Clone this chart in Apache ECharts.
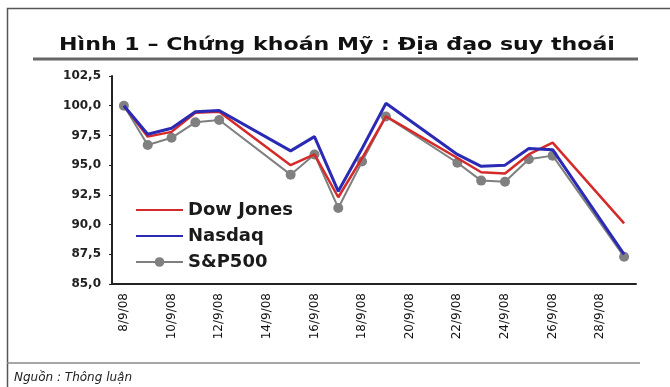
<!DOCTYPE html>
<html>
<head>
<meta charset="utf-8">
<script src="https://cdn.jsdelivr.net/npm/echarts@6/dist/echarts.min.js"></script>
<style>
html,body{margin:0;padding:0;background:#fff;}
#c{width:670px;height:387px;}
</style>
</head>
<body>
<div id="c"></div>
<script>
const categories = ["8/9/08","9/9/08","10/9/08","11/9/08","12/9/08","13/9/08","14/9/08","15/9/08","16/9/08","17/9/08","18/9/08","19/9/08","20/9/08","21/9/08","22/9/08","23/9/08","24/9/08","25/9/08","26/9/08","27/9/08","28/9/08","29/9/08"];
const dowJones = [100.0, 97.4, 97.8, 99.4, 99.5, null, null, 95.0, 95.9, 92.3, 95.6, 99.1, null, null, 95.6, 94.4, 94.3, 95.9, 96.9, null, null, 90.1];
const nasdaq   = [100.0, 97.6, 98.1, 99.5, 99.6, null, null, 96.2, 97.4, 92.8, 96.4, 100.2, null, null, 95.9, 94.9, 95.0, 96.4, 96.3, null, null, 87.5];
const sp500    = [100.0, 96.7, 97.3, 98.6, 98.8, null, null, 94.2, 95.9, 91.4, 95.3, 99.1, null, null, 95.2, 93.7, 93.6, 95.5, 95.8, null, null, 87.3];
const yTicks = {min: 85, max: 102.5, step: 2.5};
const titleText = "Hình 1 – Chứng khoán Mỹ : Địa đạo suy thoái";
const sourceText = "Nguồn : Thông luận";

const chart = echarts.init(document.getElementById('c'));
chart.setOption({
  animation: false,
  backgroundColor: '#fff',
  grid: {left: 112, top: 76, right: 34, bottom: 103},
  legend: {
    orient: 'vertical', left: 135, top: 201, padding: 0,
    itemWidth: 47, itemHeight: 12, itemGap: 8,
    textStyle: {fontFamily: 'DejaVu Sans', fontWeight: 'bold', fontSize: 18, color: '#1a1a1a'},
    data: [
      {name: 'Dow Jones', itemStyle: {opacity: 0}},
      {name: 'Nasdaq', itemStyle: {opacity: 0}},
      {name: 'S&P500'}
    ]
  },
  xAxis: {
    type: 'category', data: categories, boundaryGap: true,
    axisLine: {lineStyle: {color: '#222', width: 2}},
    axisTick: {show: false},
    axisLabel: {interval: 1, rotate: 90, fontFamily: 'DejaVu Sans', fontSize: 12, color: '#111', margin: 9}
  },
  yAxis: {
    type: 'value', min: yTicks.min, max: yTicks.max, interval: yTicks.step,
    splitLine: {show: false},
    axisLine: {show: true, lineStyle: {color: '#222', width: 2}},
    axisTick: {show: true, length: 3, lineStyle: {color: '#222'}},
    axisLabel: {
      fontFamily: 'DejaVu Sans', fontWeight: 'bold', fontSize: 12, color: '#222', margin: 11,
      formatter: v => v.toFixed(1).replace('.', ',')
    }
  },
  series: [
    {name: 'S&P500', type: 'line', data: sp500, connectNulls: true, z: 1,
     symbol: 'circle', symbolSize: 10, showSymbol: true,
     lineStyle: {color: '#7f7f7f', width: 2}, itemStyle: {color: '#808080'}},
    {name: 'Dow Jones', type: 'line', data: dowJones, connectNulls: true, z: 2,
     symbol: 'none', lineStyle: {color: '#d42a2a', width: 2.5}, itemStyle: {color: '#d42a2a'}},
    {name: 'Nasdaq', type: 'line', data: nasdaq, connectNulls: true, z: 3,
     symbol: 'none', lineStyle: {color: '#2a2ab4', width: 3}, itemStyle: {color: '#2a2ab4'}}
  ],
  graphic: [
    {type: 'rect', shape: {x: 7.5, y: 8.5, width: 700, height: 400}, style: {fill: 'none', stroke: '#555', lineWidth: 1.5}, silent: true},
    {type: 'text', x: 337, y: 46, scaleX: 1.3, style: {text: titleText, fontFamily: 'DejaVu Sans', fontWeight: 'bold', fontSize: 17, fill: '#111', textAlign: 'center', textVerticalAlign: 'middle'}},
    {type: 'line', shape: {x1: 33, y1: 59, x2: 638, y2: 59}, style: {stroke: '#666', lineWidth: 3}},
    {type: 'line', shape: {x1: 7, y1: 363, x2: 640, y2: 363}, style: {stroke: '#888', lineWidth: 1.5}},
    {type: 'text', x: 14, y: 378, style: {text: sourceText, fontFamily: 'DejaVu Sans', fontStyle: 'italic', fontSize: 12, fill: '#222', textVerticalAlign: 'middle'}}
  ]
});
</script>
</body>
</html>
